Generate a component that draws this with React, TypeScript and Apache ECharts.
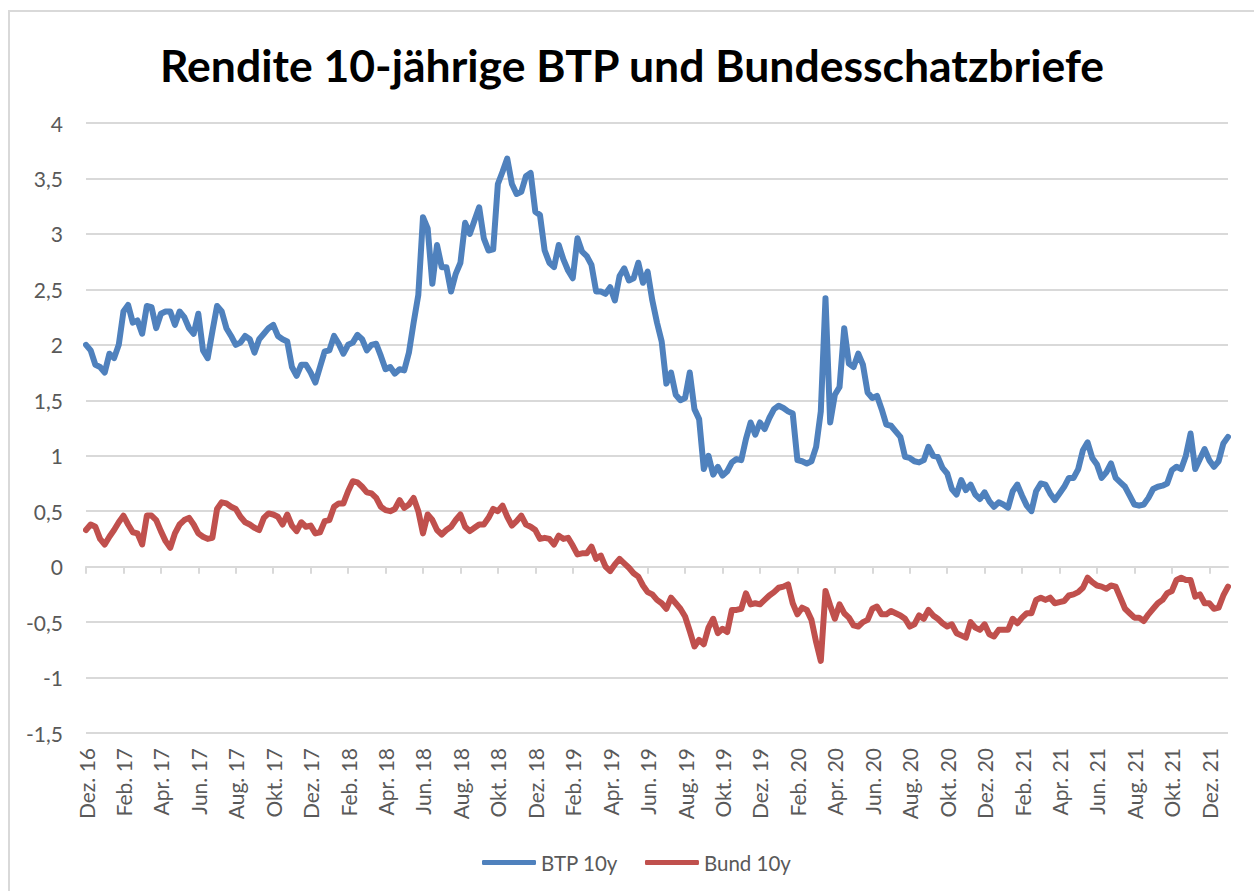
import React, { useEffect, useRef } from "react";
import * as echarts from "echarts";

const tickLabels = [
  "Dez. 16", "Feb. 17", "Apr. 17", "Jun. 17", "Aug. 17", "Okt. 17",
  "Dez. 17", "Feb. 18", "Apr. 18", "Jun. 18", "Aug. 18", "Okt. 18",
  "Dez. 18", "Feb. 19", "Apr. 19", "Jun. 19", "Aug. 19", "Okt. 19",
  "Dez. 19", "Feb. 20", "Apr. 20", "Jun. 20", "Aug. 20", "Okt. 20",
  "Dez. 20", "Feb. 21", "Apr. 21", "Jun. 21", "Aug. 21", "Okt. 21",
  "Dez. 21",
];
// weekly observations, 4 per month, starting Dec 2016
const POINTS_PER_TICK = 8;

const btp10y = [
  2.0, 1.95, 1.82, 1.8, 1.75, 1.92, 1.88, 2.0, 2.3, 2.36,
  2.2, 2.22, 2.1, 2.35, 2.34, 2.15, 2.28, 2.3, 2.3, 2.18,
  2.3, 2.25, 2.15, 2.1, 2.28, 1.95, 1.88, 2.12, 2.35, 2.3,
  2.15, 2.08, 2.0, 2.02, 2.08, 2.05, 1.93, 2.05, 2.1, 2.15,
  2.18, 2.08,
  2.05, 2.03, 1.8, 1.72, 1.82, 1.82, 1.75, 1.66, 1.8, 1.94,
  1.95, 2.08, 2.01, 1.92, 2.0, 2.02, 2.09, 2.05, 1.95, 2.0,
  2.01, 1.9, 1.78, 1.8, 1.74, 1.78, 1.77, 1.93, 2.2, 2.45,
  3.15, 3.05, 2.55, 2.9, 2.7, 2.7, 2.48, 2.64, 2.74,
  3.1, 3.0, 3.12, 3.24, 2.96, 2.85, 2.86, 3.45, 3.56, 3.68,
  3.45, 3.36, 3.38, 3.52, 3.55, 3.2, 3.17, 2.85, 2.74, 2.7,
  2.9, 2.77, 2.67, 2.6, 2.96, 2.84, 2.8, 2.72, 2.48, 2.48,
  2.46, 2.52, 2.4, 2.62, 2.69, 2.58, 2.6, 2.74, 2.56, 2.66,
  2.4, 2.2,
  2.03, 1.65, 1.75, 1.55, 1.5, 1.52, 1.75, 1.42, 1.33, 0.88,
  1.0, 0.83, 0.9, 0.82, 0.86, 0.94, 0.97, 0.96, 1.15, 1.3,
  1.19, 1.3, 1.24, 1.34, 1.42, 1.45, 1.43, 1.4, 1.38, 0.96,
  0.95, 0.93, 0.95, 1.08, 1.4, 2.42, 1.3, 1.55, 1.62, 2.15,
  1.83,
  1.8, 1.92, 1.82, 1.57, 1.52, 1.54, 1.42, 1.28, 1.27, 1.22,
  1.17, 0.99, 0.98, 0.95, 0.94, 0.96, 1.08, 1.0, 0.99, 0.89,
  0.84, 0.7, 0.65, 0.78, 0.69, 0.74, 0.65, 0.61, 0.67, 0.59,
  0.54, 0.58, 0.56, 0.53, 0.68, 0.74, 0.64, 0.55, 0.5, 0.68,
  0.75,
  0.74, 0.66, 0.6, 0.66, 0.72, 0.8, 0.8, 0.88, 1.05, 1.12,
  0.98, 0.92, 0.8, 0.85, 0.93, 0.8, 0.76, 0.72, 0.64, 0.56,
  0.55, 0.56, 0.62, 0.7, 0.72, 0.73, 0.75, 0.87, 0.9, 0.88,
  1.0, 1.2, 0.88, 0.97, 1.06, 0.96, 0.9, 0.95, 1.11, 1.17,
];

const bund10y = [
  0.33, 0.38, 0.36, 0.25, 0.2, 0.27, 0.33, 0.4, 0.46, 0.38,
  0.31, 0.3, 0.2, 0.46, 0.46, 0.42, 0.32, 0.23, 0.17, 0.3,
  0.38, 0.42, 0.44, 0.38, 0.3, 0.27, 0.25, 0.26, 0.52, 0.58,
  0.57, 0.54, 0.52, 0.45, 0.4, 0.38, 0.35, 0.33, 0.44, 0.48,
  0.47, 0.45,
  0.38, 0.47, 0.37, 0.32, 0.4, 0.36, 0.37, 0.3, 0.31, 0.41,
  0.42, 0.54, 0.57, 0.57, 0.68, 0.77, 0.76, 0.72, 0.67, 0.66,
  0.62, 0.54, 0.51, 0.5, 0.52, 0.6, 0.53, 0.56, 0.62, 0.5,
  0.3, 0.47, 0.42, 0.33, 0.29, 0.33, 0.36, 0.42, 0.47,
  0.36, 0.32, 0.35, 0.38, 0.38, 0.44, 0.52, 0.5, 0.55, 0.45,
  0.37, 0.41, 0.46, 0.38, 0.36, 0.33, 0.25, 0.26, 0.25, 0.2,
  0.28, 0.25, 0.26, 0.19, 0.11, 0.12, 0.12, 0.18, 0.07, 0.1,
  0.0, -0.04, 0.02, 0.07, 0.03, -0.01, -0.06, -0.09, -0.17, -0.23,
  -0.25, -0.3,
  -0.33, -0.38, -0.28, -0.33, -0.38, -0.45, -0.58, -0.72, -0.66, -0.7,
  -0.55, -0.47, -0.6, -0.56, -0.59, -0.39, -0.39, -0.38, -0.24, -0.34,
  -0.33, -0.34, -0.3, -0.26, -0.23, -0.19, -0.18, -0.16, -0.33, -0.43,
  -0.37, -0.39, -0.48, -0.68, -0.85, -0.22, -0.35, -0.47, -0.34, -0.42,
  -0.46,
  -0.53, -0.54, -0.5, -0.48, -0.38, -0.36, -0.43, -0.43, -0.4, -0.42,
  -0.44, -0.47, -0.54, -0.52, -0.44, -0.47, -0.39, -0.44, -0.47, -0.51,
  -0.54, -0.52, -0.6, -0.62, -0.64, -0.5, -0.55, -0.57, -0.52, -0.61,
  -0.63, -0.57, -0.57, -0.57, -0.47, -0.51, -0.46, -0.42, -0.42, -0.3,
  -0.28,
  -0.3, -0.28, -0.33, -0.32, -0.31, -0.26, -0.25, -0.23, -0.19, -0.1,
  -0.14, -0.17, -0.18, -0.2, -0.17, -0.18, -0.28, -0.38, -0.42, -0.46,
  -0.46, -0.49, -0.43, -0.38, -0.33, -0.3, -0.24, -0.22, -0.12, -0.1,
  -0.12, -0.12, -0.27, -0.25, -0.33, -0.33, -0.38, -0.37, -0.26, -0.18,
];

const categories = btp10y.map((_, i) => String(i));
const isTick = (i: number) => i % POINTS_PER_TICK === 0;

const FONT = "Lato, 'Open Sans', sans-serif";
const GREY = "#595959";
const GRID = "#d9d9d9";

export default function App() {
  const ref = useRef<HTMLDivElement>(null);
  useEffect(() => {
    if (!ref.current) return;
    const chart = echarts.init(ref.current, null, { renderer: "svg" });
    chart.setOption({
      animation: false,
      backgroundColor: "#ffffff",
      title: {
        text: "Rendite 10-jährige BTP und Bundesschatzbriefe",
        left: 627,
        textAlign: "center",
        top: 37,
        textStyle: {
          fontFamily: FONT,
          fontWeight: "bold",
          fontSize: 44.5,
          color: "#000000",
        },
      },
      graphic: [
        {
          type: "rect",
          shape: { x: 9, y: 11, width: 1400, height: 1000 },
          style: { fill: "none", stroke: GRID, lineWidth: 2 },
          silent: true,
        },
      ],
      legend: {
        left: 482,
        top: 852,
        padding: 0,
        icon: "roundRect",
        itemWidth: 54,
        itemHeight: 5,
        itemGap: 27,
        textStyle: { fontFamily: FONT, fontSize: 20.5, color: GREY },
        data: ["BTP 10y", "Bund 10y"],
      },
      grid: { left: 86, right: 26, top: 123, bottom: 158, containLabel: false },
      xAxis: [
        {
          type: "category",
          data: categories,
          boundaryGap: false,
          position: "bottom",
          axisLine: { show: false, onZero: false },
          axisTick: { show: false },
          splitLine: { show: false },
          axisLabel: {
            rotate: 90,
            interval: (i: number) => isTick(i),
            formatter: (_v: string, i: number) =>
              isTick(i) ? tickLabels[i / POINTS_PER_TICK] ?? "" : "",
            margin: 15,
            fontFamily: FONT,
            fontSize: 21,
            color: GREY,
          },
        },
        {
          type: "category",
          data: categories,
          boundaryGap: false,
          position: "bottom",
          axisLine: { show: true, onZero: true, lineStyle: { color: GRID, width: 2 } },
          axisTick: {
            show: true,
            interval: (i: number) => isTick(i),
            length: 7,
            lineStyle: { color: GRID, width: 2 },
          },
          axisLabel: { show: false },
          splitLine: { show: false },
        },
      ],
      yAxis: {
        type: "value",
        min: -1.5,
        max: 4,
        interval: 0.5,
        axisLine: { show: false },
        axisTick: { show: false },
        splitLine: { lineStyle: { color: GRID, width: 2 } },
        axisLabel: {
          formatter: (v: number) => String(v).replace(".", ","),
          margin: 23,
          fontFamily: FONT,
          fontSize: 21,
          color: GREY,
        },
      },
      series: [
        {
          name: "BTP 10y",
          type: "line",
          xAxisIndex: 0,
          data: btp10y,
          showSymbol: false,
          symbol: "none",
          color: "#4f81bd",
          lineStyle: { width: 6, color: "#4f81bd", cap: "round", join: "round" },
        },
        {
          name: "Bund 10y",
          type: "line",
          xAxisIndex: 0,
          data: bund10y,
          showSymbol: false,
          symbol: "none",
          color: "#c0504d",
          lineStyle: { width: 6, color: "#c0504d", cap: "round", join: "round" },
        },
      ],
    });
    return () => chart.dispose();
  }, []);
  return (
    <div
      ref={ref}
      style={{ position: "absolute", left: 0, top: 0, width: 1254, height: 891 }}
    />
  );
}
